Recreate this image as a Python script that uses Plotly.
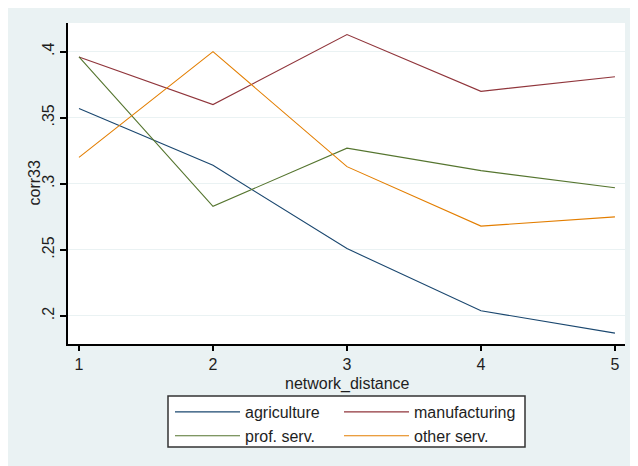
import plotly.graph_objects as go

# ---- data ----
network_distance = [1, 2, 3, 4, 5]
agriculture = [0.357, 0.314, 0.251, 0.204, 0.187]
manufacturing = [0.396, 0.360, 0.413, 0.370, 0.381]
prof_serv = [0.396, 0.283, 0.327, 0.310, 0.297]
other_serv = [0.320, 0.400, 0.313, 0.268, 0.275]
y_tickvals = [0.2, 0.25, 0.3, 0.35, 0.4]
y_ticktext = [".2", ".25", ".3", ".35", ".4"]
x_tickvals = [1, 2, 3, 4, 5]

# page has an 8px body margin; work in reference pixel coords and convert
OFF = 8
W, H = 638 - OFF, 466 - OFF
L = 68 - OFF
T = 23 - OFF
R = W - (625 - OFF)
B = H - (344 - OFF)
PW, PH = W - L - R, H - T - B


def px(x):
    return (x - OFF - L) / PW


def py(y):
    return (H - B - (y - OFF)) / PH


BG = "#EAF2F3"
FONT = "Liberation Sans, Arial, sans-serif"
TXT = "#1e1e1e"

series = [
    ("agriculture", agriculture, "#1a476f", "legend"),
    ("manufacturing", manufacturing, "#90353b", "legend2"),
    ("prof. serv.", prof_serv, "#55752f", "legend"),
    ("other serv.", other_serv, "#e37e00", "legend2"),
]

fig = go.Figure()
for name, vals, col, lg in series:
    fig.add_trace(go.Scatter(
        x=network_distance, y=vals, mode="lines", name=name,
        line=dict(color=col, width=1.1), legend=lg,
    ))

fig.update_layout(
    template="none",
    width=W, height=H,
    margin=dict(l=L, r=R, t=T, b=B, pad=0, autoexpand=False),
    paper_bgcolor="white", plot_bgcolor="white",
    font=dict(family=FONT, size=16, color=TXT),
    showlegend=True,
    legend=dict(x=px(170), y=py(395), xanchor="left", yanchor="top",
                bgcolor="rgba(0,0,0,0)", borderwidth=0, itemwidth=65,
                tracegroupgap=0, font=dict(size=16, color=TXT)),
    legend2=dict(x=px(339), y=py(395), xanchor="left", yanchor="top",
                 bgcolor="rgba(0,0,0,0)", borderwidth=0, itemwidth=65,
                 tracegroupgap=0, font=dict(size=16, color=TXT)),
    shapes=[
        dict(type="rect", xref="paper", yref="paper", layer="below",
             x0=px(0), x1=px(650), y0=py(480), y1=py(6),
             fillcolor=BG, line=dict(width=0)),
        dict(type="rect", xref="paper", yref="paper", layer="below",
             x0=0, x1=1, y0=0, y1=1, fillcolor="white", line=dict(width=0)),
        dict(type="rect", xref="paper", yref="paper", layer="above",
             x0=px(168), x1=px(525), y0=py(447), y1=py(396),
             fillcolor="white", line=dict(color="#333333", width=1.5)),
    ],
    annotations=[
        dict(text="network_distance", xref="paper", yref="paper",
             x=px(347), y=py(384), xanchor="center", yanchor="middle",
             showarrow=False, font=dict(size=16, color=TXT)),
        dict(text="corr33", xref="paper", yref="paper", textangle=-90,
             x=px(34), y=0.5, xanchor="center", yanchor="middle",
             showarrow=False, font=dict(size=16, color=TXT)),
    ],
)

fig.update_xaxes(
    range=[0.918, 5.075], tickvals=x_tickvals, showgrid=False, zeroline=False,
    automargin=False,
    showline=True, linecolor="black", linewidth=1.5, mirror=False,
    ticks="outside", ticklen=5, tickcolor="black", tickwidth=1.5,
    tickfont=dict(size=16, color=TXT),
)
fig.update_yaxes(
    range=[0.1788, 0.4217], tickvals=y_tickvals, ticktext=y_ticktext,
    automargin=False,
    tickangle=-90, showgrid=True, gridcolor=BG, gridwidth=1.2, zeroline=False,
    showline=True, linecolor="black", linewidth=1.5,
    ticks="outside", ticklen=6, tickcolor="black", tickwidth=1.5,
    tickfont=dict(size=16, color=TXT),
)

fig.write_html("out.html")
